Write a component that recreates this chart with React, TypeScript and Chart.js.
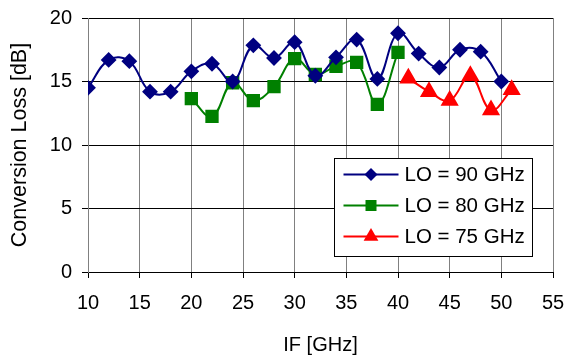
import React, { useEffect, useRef } from "react";
import { Chart, registerables } from "chart.js";

Chart.register(...registerables);

// ---- Data ----
const ifLO90 = [10, 12, 14, 16, 18, 20, 22, 24, 26, 28, 30, 32, 34, 36, 38, 40, 42, 44, 46, 48, 50];
const lossLO90 = [14.5, 16.7, 16.6, 14.2, 14.2, 15.8, 16.4, 15.0, 17.85, 16.85, 18.1, 15.45, 16.9, 18.3, 15.2, 18.8, 17.2, 16.1, 17.5, 17.35, 15.0];

const ifLO80 = [20, 22, 24, 26, 28, 30, 32, 34, 36, 38, 40];
const lossLO80 = [13.65, 12.25, 14.9, 13.5, 14.6, 16.8, 15.55, 16.2, 16.5, 13.2, 17.3];

const ifLO75 = [41, 43, 45, 47, 49, 51];
const lossLO75 = [15.25, 14.2, 13.5, 15.45, 12.75, 14.35];

const seriesLabels = ["LO = 90 GHz", "LO = 80 GHz", "LO = 75 GHz"];
const seriesColors = ["#000080", "#008000", "#FF0000"];
const xTitle = "IF [GHz]";
const yTitle = "Conversion Loss [dB]";

const FONT = "'Liberation Sans', Arial, sans-serif";

function drawMarker(ctx: CanvasRenderingContext2D, style: string, x: number, y: number, color: string) {
  ctx.save();
  ctx.fillStyle = color;
  ctx.beginPath();
  if (style === "rectRot") {
    const r = 6.5;
    ctx.moveTo(x, y - r);
    ctx.lineTo(x + r, y);
    ctx.lineTo(x, y + r);
    ctx.lineTo(x - r, y);
  } else if (style === "rect") {
    const s = 5.5;
    ctx.rect(x - s, y - s, 2 * s, 2 * s);
  } else {
    const r = 8.5;
    ctx.moveTo(x, y - r);
    ctx.lineTo(x + r * Math.sin(Math.PI / 3), y + r / 2);
    ctx.lineTo(x - r * Math.sin(Math.PI / 3), y + r / 2);
  }
  ctx.closePath();
  ctx.fill();
  ctx.restore();
}

const legendPlugin = {
  id: "boxLegend",
  afterDatasetsDraw(chart: any) {
    const ctx: CanvasRenderingContext2D = chart.ctx;
    const ca = chart.chartArea;
    const bx = Math.round(ca.right - 219) + 0.5;
    const by = Math.round(ca.top + 140) + 0.5;
    const bw = 198;
    const bh = 98;
    ctx.save();
    ctx.fillStyle = "#ffffff";
    ctx.fillRect(bx, by, bw, bh);
    ctx.strokeStyle = "#000000";
    ctx.lineWidth = 1;
    ctx.strokeRect(bx, by, bw, bh);
    const styles = ["rectRot", "rect", "triangle"];
    chart.data.datasets.forEach((ds: any, i: number) => {
      const cy = by + 16 + i * 31;
      ctx.strokeStyle = ds.borderColor;
      ctx.lineWidth = 2;
      ctx.beginPath();
      ctx.moveTo(bx + 9, cy);
      ctx.lineTo(bx + 64, cy);
      ctx.stroke();
      drawMarker(ctx, styles[i], bx + 36.5, cy, ds.borderColor);
      ctx.fillStyle = "#000000";
      ctx.font = `20.5px ${FONT}`;
      ctx.textBaseline = "middle";
      ctx.textAlign = "left";
      ctx.fillText(ds.label, bx + 70, cy + 1);
    });
    ctx.restore();
  },
};

export default function App() {
  const canvasRef = useRef<HTMLCanvasElement | null>(null);

  useEffect(() => {
    document.body.style.margin = "0";
    const canvas = canvasRef.current;
    if (!canvas) return;
    const mk = (xs: number[], ys: number[]) => xs.map((x, i) => ({ x, y: ys[i] }));
    const chart = new Chart(canvas, {
      type: "line",
      data: {
        datasets: [
          {
            label: seriesLabels[0],
            data: mk(ifLO90, lossLO90),
            borderColor: seriesColors[0],
            backgroundColor: seriesColors[0],
            pointStyle: "rectRot",
            pointRadius: 6.5,
            borderWidth: 2,
            tension: 0.4,
          },
          {
            label: seriesLabels[1],
            data: mk(ifLO80, lossLO80),
            borderColor: seriesColors[1],
            backgroundColor: seriesColors[1],
            pointStyle: "rect",
            pointRadius: 8,
            borderWidth: 2,
            tension: 0.4,
          },
          {
            label: seriesLabels[2],
            data: mk(ifLO75, lossLO75),
            borderColor: seriesColors[2],
            backgroundColor: seriesColors[2],
            pointStyle: "triangle",
            pointRadius: 8.5,
            borderWidth: 2,
            tension: 0.4,
          },
        ],
      },
      options: {
        animation: false,
        responsive: false,
        devicePixelRatio: 1,
        layout: { padding: { top: 18, right: 13, left: 0, bottom: 0 } },
        plugins: {
          legend: { display: false },
          tooltip: { enabled: false },
        },
        elements: {
          point: { borderWidth: 0, hoverRadius: 0 },
        },
        scales: {
          x: {
            type: "linear",
            min: 10,
            max: 55,
            ticks: {
              stepSize: 5,
              color: "#000",
              font: { family: FONT, size: 20 },
              padding: 13,
              maxRotation: 0,
            },
            grid: {
              color: "#808080",
              lineWidth: 1,
              tickColor: "#000",
              tickLength: 6,
            },
            border: { color: "#000", width: 1 },
            title: {
              display: true,
              text: xTitle,
              color: "#000",
              font: { family: FONT, size: 20 },
              padding: { top: 0, bottom: 1 },
            },
            afterFit(scale: any) {
              scale.height = 86;
              scale.paddingLeft = 0;
              scale.paddingRight = 0;
            },
          },
          y: {
            type: "linear",
            min: 0,
            max: 20,
            ticks: {
              stepSize: 5,
              color: "#000",
              font: { family: FONT, size: 20 },
              padding: 10,
            },
            grid: {
              color: "#000",
              lineWidth: 1,
              tickColor: "#000",
              tickLength: 6,
            },
            border: { color: "#808080", width: 1 },
            title: {
              display: true,
              text: yTitle,
              color: "#000",
              font: { family: FONT, size: 21.5 },
              padding: { top: 7, bottom: 0 },
            },
            afterFit(scale: any) {
              scale.width = 88;
              scale.paddingTop = 0;
              scale.paddingBottom = 0;
            },
          },
        },
      },
      plugins: [legendPlugin],
    });
    return () => chart.destroy();
  }, []);

  return (
    <div style={{ position: "absolute", left: 0, top: 0, width: 566, height: 358, background: "#fff" }}>
      <canvas ref={canvasRef} width={566} height={358} style={{ width: 566, height: 358 }} />
    </div>
  );
}
